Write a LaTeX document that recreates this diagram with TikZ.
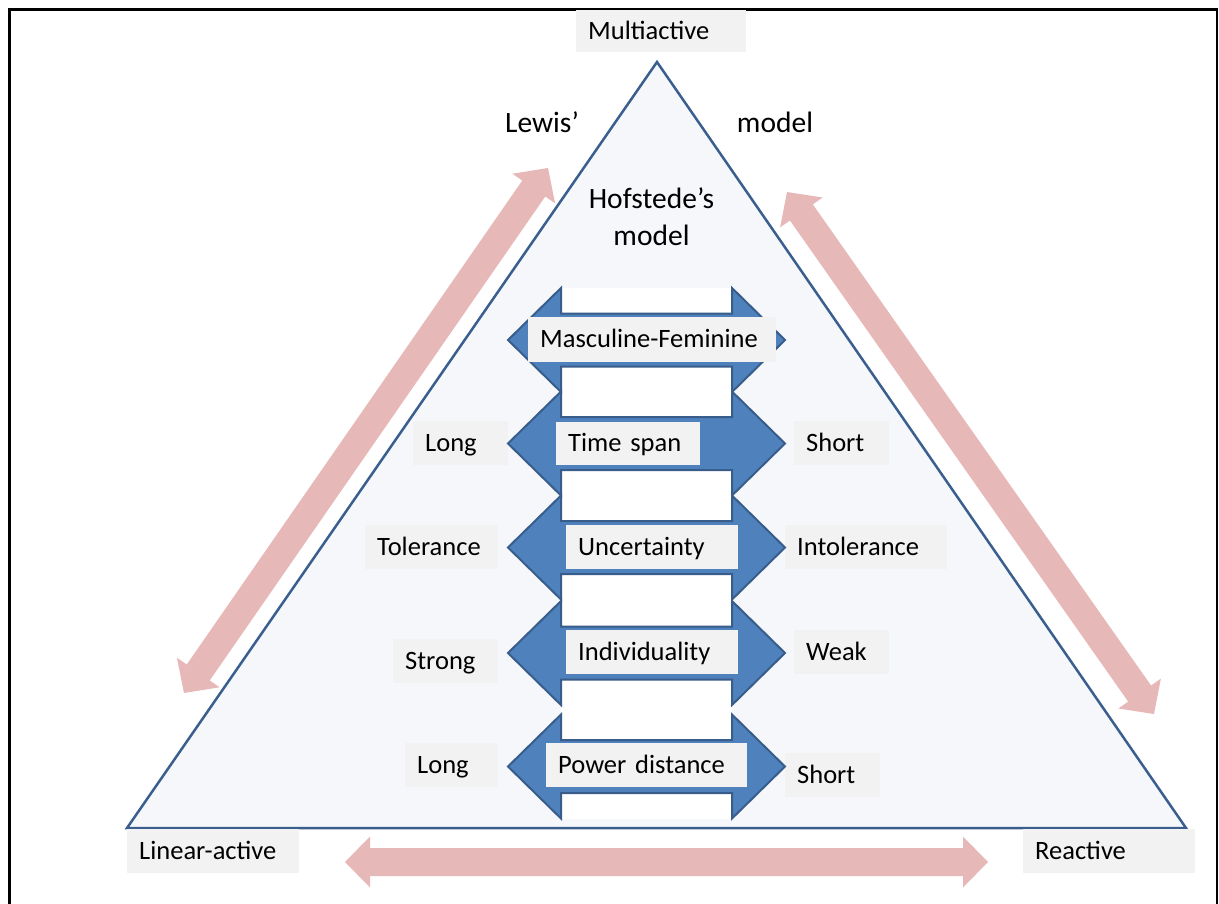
\documentclass[tikz,border=0pt]{standalone}
\usepackage{fontspec}
\setmainfont{Carlito}
\usetikzlibrary{calc}
\definecolor{pinkc}{HTML}{E6B9B8}
\definecolor{bluefill}{HTML}{4F81BD}
\definecolor{blueline}{HTML}{385D8A}
\definecolor{triline}{HTML}{3A5F8F}
\definecolor{trifill}{HTML}{F5F7FB}
\definecolor{boxgray}{HTML}{F2F2F2}
\newcommand\lblfont{\fontsize{26.5}{30}\selectfont}
\newcommand\bigtxtfont{\fontsize{29.5}{34}\selectfont}
\newcommand\pinkdbl[4]{%
  \coordinate (ha) at ($(#1)!25pt!(#2)$);
  \coordinate (hb) at ($(#2)!25pt!(#1)$);
  \fill[pinkc] (#1) -- ($(ha)!#3!90:(#2)$) -- ($(ha)!#4!90:(#2)$)
    -- ($(hb)!#4!-90:(#1)$) -- ($(hb)!#3!-90:(#1)$) -- (#2)
    -- ($(hb)!#3!90:(#1)$) -- ($(hb)!#4!90:(#1)$)
    -- ($(ha)!#4!-90:(#2)$) -- ($(ha)!#3!-90:(#2)$) -- cycle;}
\newcommand\bluerow[1]{%
  \draw[bluearrow] (508,#1) -- (561,{#1-52}) -- (561,{#1-26.5}) -- (732,{#1-26.5})
    -- (732,{#1-52}) -- (785,#1) -- (732,{#1+52}) -- (732,{#1+26.5})
    -- (561,{#1+26.5}) -- (561,{#1+52}) -- cycle;}
\begin{document}
\begin{tikzpicture}[x=1pt,y=-1pt,
  lbl/.style={fill=boxgray, inner xsep=12pt, inner ysep=0pt, text height=20pt,
    text depth=4pt, align=left, anchor=west, font=\lblfont},
  bigtxt/.style={inner sep=0pt, anchor=base, font=\bigtxtfont},
  bluearrow/.style={fill=bluefill, draw=blueline, line width=2pt, line join=miter},
  gapbox/.style={fill=white},
  framestyle/.style={draw=black, line width=2.5pt}]
\useasboundingbox (0,0) rectangle (1219,903);
% frame
\draw[framestyle] (9.3,910) -- (9.3,9.5) -- (1217,9.5) -- (1217,910);
% triangle
\coordinate (apex) at (657,62);
\coordinate (bl) at (127,828);
\coordinate (br) at (1186,828);
\draw[draw=triline, fill=trifill, line width=2.5pt, line join=miter] (apex) -- (br) -- (bl) -- cycle;
% pink arrows
\coordinate (la) at (184,693); \coordinate (lb) at (548,168);
\coordinate (ra) at (787,192); \coordinate (rb) at (1154,714);
\coordinate (ba) at (345,862); \coordinate (bb) at (988,862);
\pinkdbl{la}{lb}{26pt}{14pt}
\pinkdbl{ra}{rb}{26pt}{14pt}
\pinkdbl{ba}{bb}{25.5pt}{14pt}
% outer labels
\node[lbl, text width=146pt, minimum height=42pt] (mult) at (576,31) {Multiactive};
\node[lbl, text width=148pt, minimum height=44pt] (lin) at (127,851) {Linear-active};
\node[lbl, text width=148pt, minimum height=44pt] (rea) at (1023,851) {Reactive};
\node[lbl, text width=71pt, minimum height=44pt] (long1) at (413,443) {Long};
\node[lbl, text width=71pt, minimum height=44pt] (short1) at (794,443) {Short};
\node[lbl, text width=109pt, minimum height=44pt] (tol) at (365,547) {Tolerance};
\node[lbl, text width=138pt, minimum height=44pt] (intol) at (785,547) {Intolerance};
\node[lbl, text width=81pt, minimum height=44pt] (strong) at (393,661) {Strong};
\node[lbl, text width=71pt, minimum height=44pt] (weak) at (794,652) {Weak};
\node[lbl, text width=69pt, minimum height=44pt] (long2) at (405,765) {Long};
\node[lbl, text width=71pt, minimum height=44pt] (short2) at (785,775) {Short};
% white gaps between the shafts
\fill[gapbox] (561,288) rectangle (732,313.5);
\fill[gapbox] (561,366.5) rectangle (732,417);
\fill[gapbox] (561,470) rectangle (732,521);
\fill[gapbox] (561,574) rectangle (732,626.5);
\fill[gapbox] (561,679.5) rectangle (732,740);
\fill[gapbox] (561,793) rectangle (732,818.5);
% blue double arrows
\bluerow{340}
\bluerow{443.5}
\bluerow{547.5}
\bluerow{653}
\bluerow{766.5}
% inner labels
\node[lbl, text width=224pt, minimum height=45pt] (masc) at (528,339.5) {Masculine-Feminine};
\node[lbl, text width=120pt, minimum height=43pt] (time) at (556,443.5) {Time span};
\node[lbl, text width=148pt, minimum height=44pt] (unc) at (566,547) {Uncertainty};
\node[lbl, text width=148pt, minimum height=44pt] (ind) at (566,652) {Individuality};
\node[lbl, text width=177pt, minimum height=44pt] (pow) at (546,765) {Power distance};
% free texts
\node[bigtxt] (lewis) at (542,132) {Lewis’};
\node[bigtxt] (lmodel) at (775,132) {model};
\node[bigtxt] (hof1) at (651.5,208) {Hofstede’s};
\node[bigtxt] (hof2) at (651.5,245) {model};
\end{tikzpicture}
\end{document}
